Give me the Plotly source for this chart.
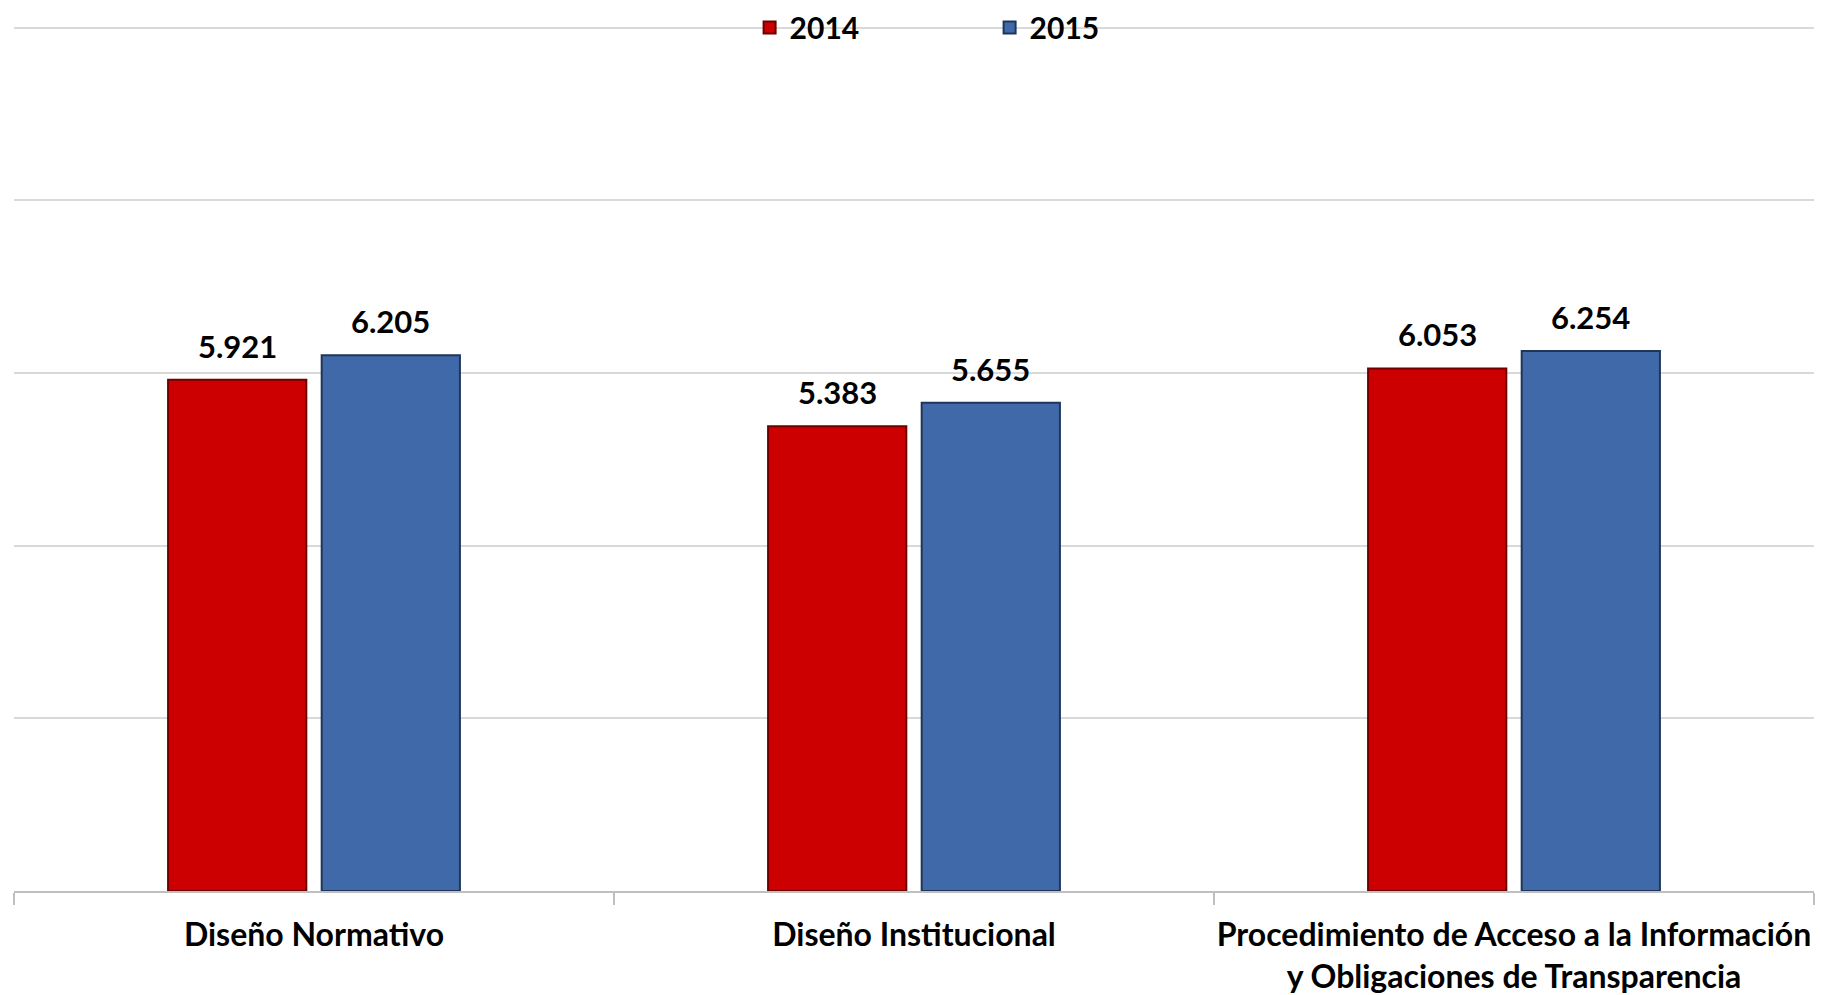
import plotly.graph_objects as go

categories = ["Diseño Normativo", "Diseño Institucional",
              "Procedimiento de Acceso a la Información<br>y Obligaciones de Transparencia"]
series_names = ["2014", "2015"]
values_2014 = [5.921, 5.383, 6.053]
values_2015 = [6.205, 5.655, 6.254]
y_ticks = [0, 2, 4, 6, 8, 10]

colors = ["#CC0000", "#3F69A8"]
edge_colors = ["#6E0000", "#1F3659"]
FONT = "Lato"
BARGAP = 0.488
BARGROUPGAP = 0.1

fig = go.Figure()
for name, vals, col, edge in zip(series_names, [values_2014, values_2015], colors, edge_colors):
    fig.add_trace(go.Bar(
        x=categories, y=vals, name=name,
        marker=dict(color=col, line=dict(color=edge, width=2)),
    ))

# data labels as annotations above each bar
slot = (1 - BARGAP) / len(series_names)
annotations = []
for si, vals in enumerate([values_2014, values_2015]):
    off = (si - (len(series_names) - 1) / 2) * slot
    for ci, v in enumerate(vals):
        annotations.append(dict(
            x=ci + off, y=v, xref="x", yref="y",
            text=f"<b>{v:.3f}</b>", showarrow=False,
            yanchor="middle", yshift=34,
            font=dict(family=FONT, size=31, color="black"),
        ))

fig.update_layout(
    width=1822, height=995,
    margin=dict(l=14, r=8, t=25, b=104, autoexpand=False),
    paper_bgcolor="white", plot_bgcolor="white",
    barmode="group", bargap=BARGAP, bargroupgap=BARGROUPGAP,
    font=dict(family=FONT, size=30, color="black"),
    showlegend=True,
    legend=dict(
        orientation="h", x=0.542, xanchor="center", y=0.997, yanchor="middle",
        bgcolor="rgba(0,0,0,0)", font=dict(family=FONT, size=30, color="black", weight="bold"),
        entrywidth=195, entrywidthmode="pixels", itemwidth=30,
    ),
    annotations=annotations,
)
fig.update_xaxes(
    showline=True, linecolor="#BFBFBF", linewidth=2,
    ticks="outside", tickson="boundaries", ticklen=12, tickcolor="#BFBFBF", tickwidth=2,
    tickfont=dict(family=FONT, size=32, color="black", weight="bold"),
    tickangle=0, ticklabelstandoff=15,
    showgrid=False,
)
fig.update_yaxes(
    range=[0, 10.03], tickvals=y_ticks, showticklabels=False,
    showgrid=True, gridcolor="#D9D9D9", gridwidth=2,
    zeroline=False, showline=False,
)

fig.write_html("out.html", config={"displayModeBar": False},
               post_script="document.body.style.margin='0px';")
